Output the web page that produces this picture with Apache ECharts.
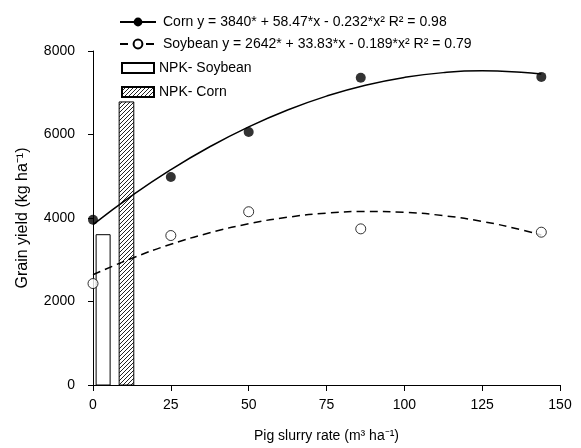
<!DOCTYPE html>
<html>
<head>
<meta charset="utf-8">
<script src="https://cdn.jsdelivr.net/npm/echarts@6/dist/echarts.min.js"></script>
<style>
  html, body { margin: 0; padding: 0; background: #fff; }
  #main { width: 581px; height: 448px; }
</style>
</head>
<body>
<div id="main"></div>
<script>
// observed points
const cornPoints = [[0, 3960], [25, 4980], [50, 6060], [86, 7360], [144, 7380]];
const soyPoints = [[0, 2430], [25, 3580], [50, 4150], [86, 3740], [144, 3660]];
// fitted curves
const cornCurve = [[0, 3840], [12.5, 4535], [25, 5157], [37.5, 5706], [50, 6184], [62.5, 6588], [75, 6920],
  [87.5, 7180], [100, 7367], [112.5, 7482], [125, 7524], [137.5, 7493], [144, 7449]];
const soyCurve = [[0, 2642], [12.5, 3035], [25, 3370], [37.5, 3645], [50, 3861], [62.5, 4018], [75, 4116],
  [87.5, 4155], [100, 4135], [112.5, 4056], [125, 3918], [137.5, 3720], [144, 3594]];
// NPK bars: [xStart, xEnd, yield]
const npkSoybean = [[1, 5.5, 3600]];
const npkCorn = [[8.4, 13.1, 6780]];

const cornName = 'Corn y = 3840* + 58.47*x - 0.232*x² R² = 0.98';
const soyName = 'Soybean y = 2642* + 33.83*x - 0.189*x² R² = 0.79';

// hatch pattern for NPK-Corn
const hatch = document.createElement('canvas');
hatch.width = 4;
hatch.height = 4;
const hc = hatch.getContext('2d');
hc.fillStyle = '#fff';
hc.fillRect(0, 0, 4, 4);
hc.strokeStyle = '#222';
hc.lineWidth = 1;
hc.beginPath();
hc.moveTo(0, 4); hc.lineTo(4, 0);
hc.moveTo(-1, 1); hc.lineTo(1, -1);
hc.moveTo(3, 5); hc.lineTo(5, 3);
hc.stroke();

function barItem(params, api) {
  const p0 = api.coord([api.value(0), api.value(2)]);
  const p1 = api.coord([api.value(1), 0]);
  return {
    type: 'rect',
    shape: { x: p0[0], y: p0[1], width: p1[0] - p0[0], height: p1[1] - p0[1] },
    style: api.style()
  };
}

const font = 'Liberation Sans';
let myChart = echarts.init(document.getElementById('main'));
const option = {
  animation: false,
  textStyle: { fontFamily: font, color: '#000' },
  grid: { left: 93, right: 21, top: 51, bottom: 61 },
  legend: [
    {
      data: [cornName, soyName],
      orient: 'vertical',
      left: 114, top: 10,
      itemWidth: 36, itemHeight: 11, itemGap: 8,
      textStyle: { fontSize: 14, color: '#000', fontFamily: font, padding: [0, 0, 0, 2] },
      selectedMode: false
    },
    {
      data: [{ name: 'NPK- Soybean', icon: 'rect' }, { name: 'NPK- Corn', icon: 'rect' }],
      orient: 'vertical',
      left: 116, top: 56,
      itemWidth: 32, itemHeight: 10, itemGap: 10,
      textStyle: { fontSize: 14, color: '#000', fontFamily: font },
      selectedMode: false
    }
  ],
  xAxis: {
    type: 'value', min: 0, max: 150, interval: 25,
    name: 'Pig slurry rate (m³ ha⁻¹)', nameLocation: 'middle', nameGap: 44,
    nameTextStyle: { fontSize: 14, color: '#000' },
    splitLine: { show: false },
    axisLine: { lineStyle: { color: '#000', width: 1 } },
    axisTick: { length: 6, lineStyle: { color: '#000' } },
    axisLabel: { fontSize: 14, color: '#000', margin: 13 }
  },
  yAxis: {
    type: 'value', min: 0, max: 8000, interval: 2000,
    name: 'Grain yield (kg ha⁻¹)', nameLocation: 'middle', nameGap: 62,
    nameTextStyle: { fontSize: 16, color: '#000' },
    splitLine: { show: false },
    axisLine: { show: true, lineStyle: { color: '#000', width: 1 } },
    axisTick: { show: true, length: 5, lineStyle: { color: '#000' } },
    axisLabel: { fontSize: 14, color: '#000', margin: 18, formatter: v => String(v) }
  },
  series: [
    {
      name: 'NPK- Soybean', type: 'custom', renderItem: barItem,
      encode: { x: [0, 1], y: 2 },
      itemStyle: { color: '#fff', borderColor: '#000', borderWidth: 1 },
      data: npkSoybean
    },
    {
      name: 'NPK- Corn', type: 'custom', renderItem: barItem,
      encode: { x: [0, 1], y: 2 },
      itemStyle: { color: { image: hatch, repeat: 'repeat' }, borderColor: '#000', borderWidth: 1 },
      data: npkCorn
    },
    {
      name: cornName, type: 'line', smooth: true,
      symbol: 'circle', showSymbol: false, symbolSize: 10,
      lineStyle: { color: '#000', width: 1.5 },
      itemStyle: { color: '#000' },
      data: cornCurve
    },
    {
      name: soyName, type: 'line', smooth: true,
      symbol: 'emptyCircle', showSymbol: false, symbolSize: 10,
      lineStyle: { color: '#000', width: 1.5, type: [8, 5] },
      itemStyle: { color: '#000', borderColor: '#000' },
      data: soyCurve
    },
    {
      name: 'cornPts', type: 'scatter', symbol: 'circle', symbolSize: 10,
      itemStyle: { color: '#000' },
      data: cornPoints, z: 5
    },
    {
      name: 'soyPts', type: 'scatter', symbol: 'circle', symbolSize: 10,
      itemStyle: { color: '#fff', borderColor: '#000', borderWidth: 1 },
      data: soyPoints, z: 5
    }
  ]
};
myChart.setOption(option);
</script>
</body>
</html>
